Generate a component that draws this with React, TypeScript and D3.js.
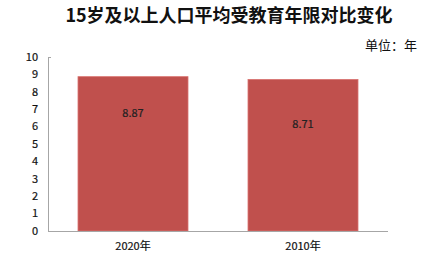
import React from "react";
import * as d3 from "d3";

const categories = ["2020年", "2010年"];
const values = [8.87, 8.71];
const yTicks = [0, 1, 2, 3, 4, 5, 6, 7, 8, 9, 10];
const labelOffsets = [36, 45];

const W = 435, H = 260;
const M = { left: 48, right: 388, top: 57, bottom: 231 };
const font = "'Noto Sans CJK SC', 'Noto Sans', sans-serif";

export default function App() {
  const x = d3.scaleBand<string>().domain(categories).range([M.left, M.right]).paddingInner(0.353).paddingOuter(0.1765);
  const y = d3.scaleLinear().domain([0, 10]).range([M.bottom, M.top]);
  return (
    <svg width={W} height={H} style={{ position: "absolute", left: 0, top: 0, background: "#fff" }}>
      <text x={229} y={22} textAnchor="middle" fontFamily={font} fontWeight="bold" fontSize={18} fill="#111">15岁及以上人口平均受教育年限对比变化</text>
      <text x={417} y={50} textAnchor="end" fontFamily={font} fontSize={13} fill="#111">单位：年</text>
      {yTicks.map((t) => (
        <text key={t} x={38} y={y(t)} dy="0.35em" textAnchor="end" fontFamily={font} fontSize={11} fill="#111" stroke="#111" strokeWidth={0.2}>{t}</text>
      ))}
      <line x1={M.left + 0.5} x2={M.left + 0.5} y1={y(10)} y2={y(0)} stroke="#a6a6a6" />
      <line x1={M.left} x2={M.left + 3} y1={y(10) + 0.5} y2={y(10) + 0.5} stroke="#a6a6a6" />
      {categories.map((c, i) => (
        <g key={c}>
          <rect x={x(c)!} y={y(values[i])} width={x.bandwidth()} height={y(0) - y(values[i])} fill="#C0504D" stroke="#D9726F" strokeWidth={0.8} />
          <text x={x(c)! + x.bandwidth() / 2} y={y(values[i]) + labelOffsets[i]} dy="0.35em" textAnchor="middle" fontFamily={font} fontSize={11} fill="#222" stroke="#222" strokeWidth={0.2}>{values[i].toFixed(2)}</text>
          <text x={x(c)! + x.bandwidth() / 2} y={246} dy="0.35em" textAnchor="middle" fontFamily={font} fontSize={11} fill="#111" stroke="#111" strokeWidth={0.2}>{c}</text>
        </g>
      ))}
      <line x1={M.left} x2={M.right} y1={y(0) + 0.5} y2={y(0) + 0.5} stroke="#a6a6a6" strokeWidth={1.2} />
    </svg>
  );
}
